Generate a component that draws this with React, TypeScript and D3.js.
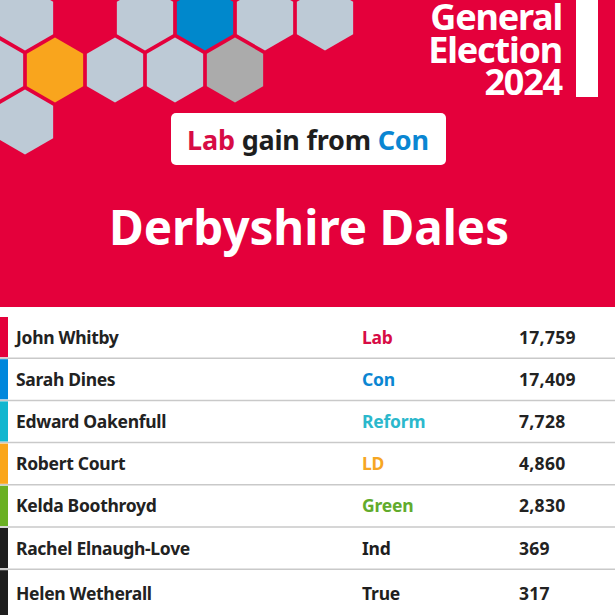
import React, { useEffect, useRef } from "react";
import * as d3 from "d3";

// candidates
const names = [
  "John Whitby",
  "Sarah Dines",
  "Edward Oakenfull",
  "Robert Court",
  "Kelda Boothroyd",
  "Rachel Elnaugh-Love",
  "Helen Wetherall",
];
const parties = ["Lab", "Con", "Reform", "LD", "Green", "Ind", "True"];
const votes = [17759, 17409, 7728, 4860, 2830, 369, 317];

const partyColour: Record<string, string> = {
  Lab: "#e4003b",
  Con: "#0087dc",
  Reform: "#12b6cf",
  LD: "#faa61a",
  Green: "#6ab023",
  Ind: "#1e1e1e",
  True: "#1e1e1e",
};
const partyText: Record<string, string> = {
  Lab: "#d70c45",
  Con: "#0a86d2",
  Reform: "#2bb8cc",
  LD: "#f6a623",
  Green: "#62ab2c",
  Ind: "#1e1e1e",
  True: "#1e1e1e",
};

// decorative hexagon grid (half-column index, row index, fill)
const hexCols = [1, 5, 7, 9, 11, 0, 2, 4, 6, 8, 1];
const hexRows = [0, 0, 0, 0, 0, 1, 1, 1, 1, 1, 2];
const hexFills = [
  "#bdcad6", "#bdcad6", "#0088cc", "#bdcad6", "#bdcad6",
  "#bdcad6", "#f9a51d", "#bdcad6", "#bdcad6", "#ababab",
  "#bdcad6",
];

const headline = ["General", "Election", "2024"];
const winner = "Lab";
const loser = "Con";
const seat = "Derbyshire Dales";

const W = 615;
const H = 615;
const RED = "#e4003b";
const FONT = "'Noto Sans', sans-serif";

export default function App() {
  const ref = useRef<SVGSVGElement>(null);

  useEffect(() => {
    document.body.style.margin = "0";
    const svg = d3.select(ref.current);
    svg.selectAll("*").remove();

    // banner
    svg.append("rect").attr("x", 0).attr("y", 0).attr("width", W).attr("height", 307).attr("fill", RED);

    // hexagons
    const hx = d3.scaleLinear().domain([0, 1]).range([-5, 25]);
    const hy = d3.scaleLinear().domain([0, 1]).range([18, 70]);
    const r = 32.5;
    const hexPts = d3.range(6).map((i) => {
      const a = (Math.PI / 3) * i - Math.PI / 2;
      return [r * Math.cos(a), r * Math.sin(a)] as [number, number];
    });
    const hexLine = d3.line().curve(d3.curveLinearClosed);
    svg.append("g")
      .selectAll("path")
      .data(hexCols.map((c, i) => ({ c, row: hexRows[i], fill: hexFills[i] })))
      .enter()
      .append("path")
      .attr("transform", (d) => `translate(${hx(d.c)},${hy(d.row)})`)
      .attr("d", hexLine(hexPts))
      .attr("fill", (d) => d.fill);

    // General Election 2024
    const hl = svg.append("text")
      .attr("font-family", FONT)
      .attr("font-weight", 700)
      .attr("font-size", 36)
      .attr("fill", "#fff")
      .attr("text-anchor", "end")
      .attr("letter-spacing", -1.2);
    headline.forEach((t, i) => {
      hl.append("tspan").attr("x", 562).attr("y", 30 + i * 32.5).text(t);
    });
    svg.append("rect").attr("x", 576).attr("y", 0).attr("width", 22).attr("height", 97).attr("fill", "#fff");

    // gain box
    svg.append("rect")
      .attr("x", 171).attr("y", 113).attr("width", 275).attr("height", 52)
      .attr("rx", 5).attr("fill", "#fff");
    const gain = svg.append("text")
      .attr("x", 308).attr("y", 150)
      .attr("text-anchor", "middle")
      .attr("font-family", FONT)
      .attr("font-weight", 700)
      .attr("font-size", 27)
      .attr("letter-spacing", -0.2);
    gain.append("tspan").attr("fill", partyText[winner]).text(winner);
    gain.append("tspan").attr("fill", "#1e1e1e").text(" gain from ");
    gain.append("tspan").attr("fill", partyText[loser]).text(loser);

    // seat name
    svg.append("text")
      .attr("x", 309).attr("y", 245)
      .attr("text-anchor", "middle")
      .attr("font-family", FONT)
      .attr("font-weight", 700)
      .attr("font-size", 47.5)
      .attr("letter-spacing", 0)
      .attr("fill", "#fff")
      .text(seat);

    // results table
    const y = d3.scaleBand<string>().domain(names).range([316, 316 + 42.2 * names.length]);
    const rows = svg.append("g")
      .selectAll("g")
      .data(names.map((n, i) => ({ name: n, party: parties[i], votes: votes[i], i })))
      .enter()
      .append("g")
      .attr("transform", (d) => `translate(0,${y(d.name)})`);

    const bh = y.bandwidth();
    rows.append("rect")
      .attr("x", 0).attr("y", 1).attr("width", 8).attr("height", (d) => (d.i < names.length - 1 ? bh - 2 : bh + 10))
      .attr("fill", (d) => partyColour[d.party]);
    rows.filter((d) => d.i < names.length - 1)
      .append("line")
      .attr("x1", 0).attr("x2", W)
      .attr("y1", bh).attr("y2", bh)
      .attr("stroke", "#c9c9c9").attr("stroke-width", 1.5);

    const fmt = d3.format(",");
    const txt = (sel: any) =>
      sel.attr("y", (d: any) => bh / 2 + 6.5 + (d.i === names.length - 1 ? 3 : 0))
        .attr("font-family", FONT)
        .attr("font-weight", 700)
        .attr("font-size", 17.5);
    txt(rows.append("text")).attr("x", 16).attr("fill", "#222").attr("letter-spacing", -0.3).text((d: any) => d.name);
    txt(rows.append("text")).attr("x", 362).attr("fill", (d: any) => partyText[d.party]).attr("letter-spacing", -0.2).text((d: any) => d.party);
    txt(rows.append("text")).attr("x", 519).attr("fill", "#222").attr("letter-spacing", 0.3).text((d: any) => fmt(d.votes));
  }, []);

  return (
    <svg
      ref={ref}
      width={W}
      height={H}
      style={{ position: "absolute", left: 0, top: 0, background: "#fff" }}
    />
  );
}
